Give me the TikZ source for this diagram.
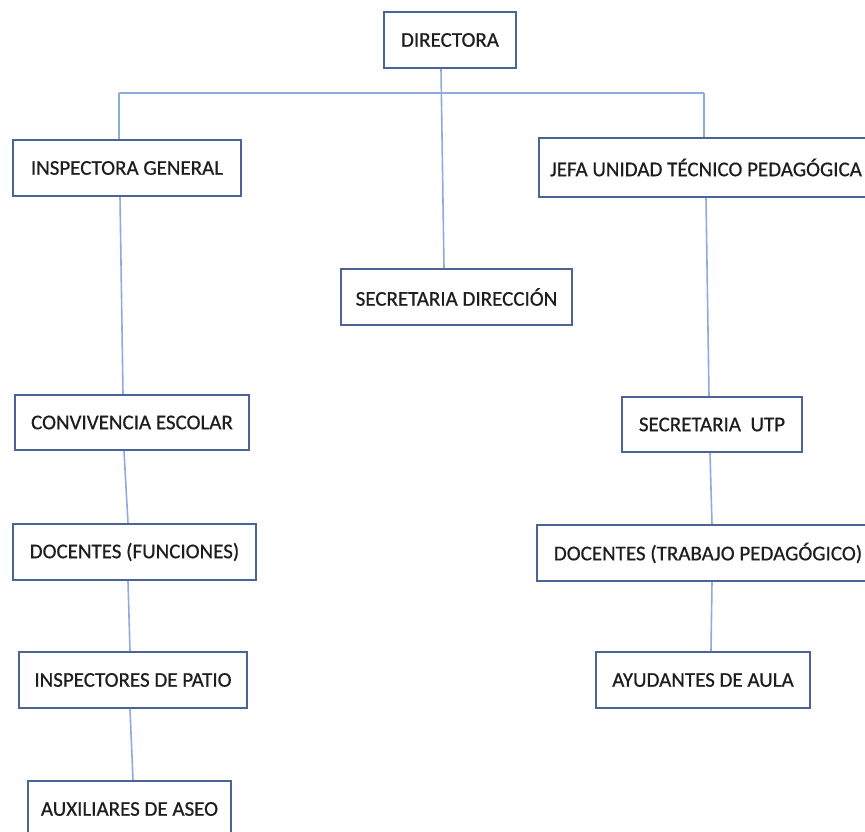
\documentclass[tikz,border=0pt]{standalone}
\usepackage{fontspec}
\setmainfont{Carlito}
\newfontfamily\cargofont{Carlito}[FakeBold=0.6]
\definecolor{boxline}{HTML}{4A6496}
\definecolor{linkline}{HTML}{8FAADC}
\definecolor{txt}{HTML}{1E1E1E}
\tikzset{
  cargo/.style={draw=boxline, line width=1.8pt, fill=white, text=txt,
    minimum height=56pt, inner sep=0pt, font=\cargofont\fontsize{21}{24}\selectfont},
  link/.style={draw=linkline, line width=1.6pt}
}
\begin{document}
\begin{tikzpicture}[x=1pt,y=-1pt]
\useasboundingbox (0,0) rectangle (865,832);
\clip (0,0) rectangle (865,832);

% Nodes
\node[cargo, minimum width=132pt] (dir) at (450,40) {DIRECTORA};
\node[cargo, minimum width=228pt] (insp) at (127,168) {INSPECTORA GENERAL};
\node[cargo, minimum width=334pt, minimum height=59pt] (jefa) at (706,167.5) {JEFA UNIDAD TÉCNICO PEDAGÓGICA};
\node[cargo, minimum width=231pt] (secd) at (456.5,297) {SECRETARIA DIRECCIÓN};
\node[cargo, minimum width=234pt, minimum height=55pt] (conv) at (132,422.5) {CONVIVENCIA ESCOLAR};
\node[cargo, minimum width=180pt, minimum height=55pt] (secu) at (712,424.5) {SECRETARIA~~UTP};
\node[cargo, minimum width=243pt] (docf) at (134.5,552) {DOCENTES (FUNCIONES)};
\node[cargo, minimum width=342pt] (doct) at (708,553) {DOCENTES (TRABAJO PEDAGÓGICO)};
\node[cargo, minimum width=228pt] (pat) at (133,680) {INSPECTORES DE PATIO};
\node[cargo, minimum width=214pt] (ayu) at (703,680) {AYUDANTES DE AULA};
\node[cargo, minimum width=203pt] (aseo) at (129.5,809) {AUXILIARES DE ASEO};

% Connectors
\coordinate (jl) at (119,93);
\coordinate (jr) at (704,93);
\draw[link] (jl) -- (jr);
\draw[link] ([xshift=-9]dir.south) -- ([xshift=-12.5]secd.north);
\draw[link] (jl) -- ([xshift=-8]insp.north);
\draw[link] (jr) -- ([xshift=-2]jefa.north);
\draw[link] ([xshift=-7]insp.south) -- ([xshift=-9]conv.north);
\draw[link] ([xshift=-8]conv.south) -- ([xshift=-6.5]docf.north);
\draw[link] ([xshift=-6.5]docf.south) -- ([xshift=-3]pat.north);
\draw[link] ([xshift=-3]pat.south) -- ([xshift=3.5]aseo.north);
\draw[link] (jefa.south) -- ([xshift=-3]secu.north);
\draw[link] ([xshift=-2]secu.south) -- ([xshift=4]doct.north);
\draw[link] ([xshift=4]doct.south) -- ([xshift=8]ayu.north);
\end{tikzpicture}
\end{document}
